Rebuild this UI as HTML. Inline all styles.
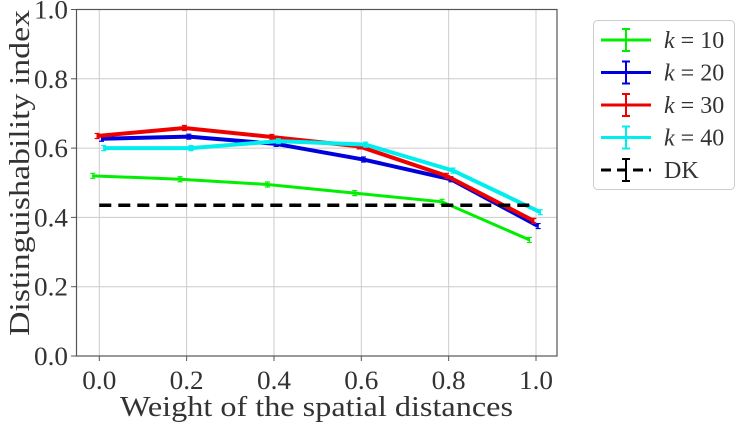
<!DOCTYPE html>
<html><head><meta charset="utf-8"><style>
body{margin:0;background:#fff;width:742px;height:424px;overflow:hidden}
text{font-family:"Liberation Serif",serif;fill:#333}
</style></head><body>
<svg width="742" height="424">
<g id="grid"></g>
<g id="series"></g>
<rect x="76.5" y="9.5" width="480.5" height="346.5" fill="none" stroke="#555" stroke-width="1.2"/>
<g id="ticks"></g>
<text x="120" y="416" font-size="29" textLength="393" lengthAdjust="spacingAndGlyphs">Weight of the spatial distances</text>
<text transform="translate(29,336) rotate(-90)" font-size="29" textLength="326" lengthAdjust="spacingAndGlyphs">Distinguishability index</text>
<g>
<rect x="593.5" y="20.5" width="141" height="169" rx="4" fill="#fff" stroke="#ccc"/>
<g id="legend"></g>
</g>
</svg>
<script>
const xCats=[0,0.2,0.4,0.6,0.8,1.0];
const k10=[0.52,0.51,0.495,0.47,0.445,0.335];
const k20=[0.627,0.633,0.612,0.567,0.51,0.375];
const k30=[0.635,0.658,0.632,0.605,0.52,0.39];
const k40=[0.60,0.60,0.62,0.61,0.535,0.415];
const dk=[0.435,0.435,0.435,0.435,0.435,0.435];
const xTicks=["0.0","0.2","0.4","0.6","0.8","1.0"];
const yTicks=["0.0","0.2","0.4","0.6","0.8","1.0"];
const legendLabels=["k = 10","k = 20","k = 30","k = 40","DK"];
const NS="http://www.w3.org/2000/svg";
const X=v=>99.3+v*436.7, Y=v=>356-v*346.5;
function mk(t,a,p){const e=document.createElementNS(NS,t);for(const k in a)e.setAttribute(k,a[k]);p.appendChild(e);return e;}
const grid=document.getElementById('grid'),ticks=document.getElementById('ticks'),ser=document.getElementById('series'),leg=document.getElementById('legend');
xTicks.forEach((t,i)=>{const v=+t;
 const g=mk('line',{x1:X(v),x2:X(v),y1:9.5,y2:356,stroke:'#ccc','stroke-width':1},grid);
 
 
 const l=mk('line',{x1:X(v),x2:X(v),y1:356,y2:361,stroke:'#555'},ticks);
 
 
 const tx=mk('text',{x:X(v)-17,y:389,'font-size':26,textLength:34,lengthAdjust:'spacingAndGlyphs'},ticks);tx.textContent=t;
 
 
});
yTicks.forEach(t=>{const v=+t;
 const g=mk('line',{x1:76.5,x2:557,y1:Y(v),y2:Y(v),stroke:'#ccc','stroke-width':1},grid);
 
 
 const l=mk('line',{x1:71,x2:76.5,y1:Y(v),y2:Y(v),stroke:'#555'},ticks);
 
 
 const tx=mk('text',{x:34,y:Y(v)+9,'font-size':26,textLength:34,lengthAdjust:'spacingAndGlyphs'},ticks);tx.textContent=t;
 
 
});
const series=[[k10,'#00ee00',-0.015,3,''],[k20,'#0000dd',0.005,4,''],[k30,'#ee0000',-0.005,4,''],[k40,'#00eeee',0.01,4,''],[dk,'#000',0,3.5,'12,7']];
series.forEach((s,si)=>{const [vals,c,off,w,dash]=s;
 const pts=vals.map((v,i)=>X(xCats[i]+off)+','+Y(v)).join(' ');
 const p=mk('polyline',{points:pts,fill:'none',stroke:c,'stroke-width':w,'stroke-dasharray':dash},ser);
 
 
 if(!dash) vals.forEach((v,i)=>{const x=X(xCats[i]+off),y=Y(v);
  const e=mk('path',{d:`M${x},${y-2.5}V${y+2.5}M${x-2.5},${y-2.5}H${x+2.5}M${x-2.5},${y+2.5}H${x+2.5}`,stroke:c,'stroke-width':1.2,fill:'none'},ser);
  
  
 });
 const ly=40+si*32.5;
 const lg=mk('g',{},leg);
 
 
 mk('line',{x1:601,x2:651,y1:ly,y2:ly,stroke:c,'stroke-width':3,'stroke-dasharray':dash?'10,6':''},lg);
 mk('path',{d:`M626,${ly-11}V${ly+11}M622,${ly-11}H630M622,${ly+11}H630`,stroke:c,'stroke-width':2,fill:'none'},lg);
 const t=mk('text',{x:664,y:ly+8,'font-size':24},lg);
 if(si<4){t.innerHTML='<tspan font-style="italic">k</tspan> = '+legendLabels[si].split('= ')[1];}else t.textContent=legendLabels[si];
});
</script>
</body></html>
